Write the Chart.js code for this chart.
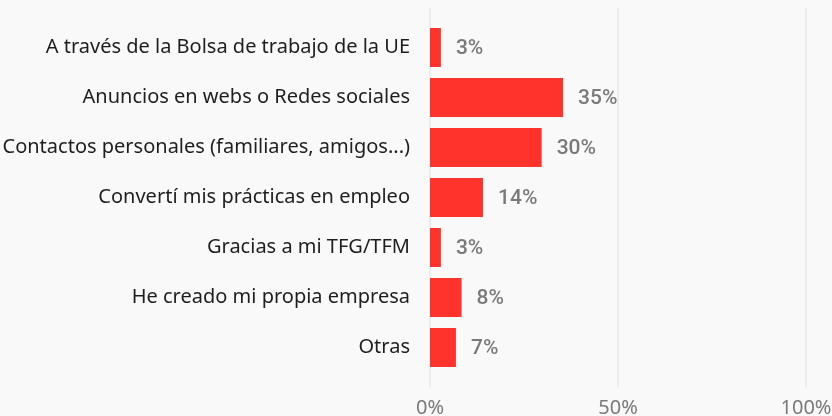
<!DOCTYPE html>
<html>
<head>
<meta charset="utf-8">
<script src="https://cdn.jsdelivr.net/npm/chart.js@4/dist/chart.umd.min.js"></script>
<style>
    html, body { margin: 0; padding: 0; background: #f9f9f9; overflow: hidden; }
    #wrap { width: 832px; height: 420px; position: relative; }
</style>
</head>
<body>
<div id="wrap"><canvas id="chart"></canvas></div>
<script>
const categories = [
    'A través de la Bolsa de trabajo de la UE',
    'Anuncios en webs o Redes sociales',
    'Contactos personales (familiares, amigos...)',
    'Convertí mis prácticas en empleo',
    'Gracias a mi TFG/TFM',
    'He creado mi propia empresa',
    'Otras'
];
const shares = [2.9, 35.4, 29.7, 14.1, 2.9, 8.4, 6.9];
const xTicks = [0, 50, 100];

// grid lines reach a bit past the plot area, above and below
const gridPlugin = {
    id: 'longGrid',
    beforeDatasetsDraw(chart) {
        const { ctx, chartArea, scales } = chart;
        ctx.save();
        ctx.strokeStyle = '#e6e6e6';
        ctx.lineWidth = 1.5;
        scales.x.ticks.forEach(t => {
            const x = scales.x.getPixelForValue(t.value);
            ctx.beginPath();
            ctx.moveTo(x, chartArea.top - 15);
            ctx.lineTo(x, chartArea.bottom + 15);
            ctx.stroke();
        });
        ctx.restore();
    }
};

const valueLabels = {
    id: 'valueLabels',
    afterDatasetsDraw(chart) {
        const { ctx } = chart;
        const meta = chart.getDatasetMeta(0);
        ctx.save();
        ctx.font = '500 21px Roboto';
        ctx.fillStyle = '#7a7a7a';
        ctx.textAlign = 'left';
        ctx.textBaseline = 'middle';
        meta.data.forEach((bar, i) => {
            ctx.fillText(Math.round(shares[i]) + '%', bar.x + 15, bar.y + 1);
        });
        ctx.restore();
    }
};

new Chart(document.getElementById('chart'), {
    type: 'bar',
    data: {
        labels: categories,
        datasets: [{
            data: shares,
            backgroundColor: '#ff332b',
            borderWidth: 0,
            categoryPercentage: 0.78,
            barPercentage: 1
        }]
    },
    options: {
        indexAxis: 'y',
        responsive: true,
        maintainAspectRatio: false,
        animation: false,
        layout: { padding: { top: 22.5, right: 26, left: 0, bottom: 0 } },
        plugins: {
            legend: { display: false },
            tooltip: { enabled: false }
        },
        scales: {
            x: {
                min: 0,
                max: 100,
                afterBuildTicks: (scale) => { scale.ticks = xTicks.map(v => ({ value: v })); },
                afterFit: (scale) => {
                    scale.height = 47.5;
                    scale.paddingLeft = 0;
                    scale.paddingRight = 0;
                },
                grid: { display: false, drawTicks: false },
                border: { display: false },
                ticks: {
                    padding: 24,
                    color: '#7a7a7a',
                    font: { family: 'Noto Sans', size: 20 },
                    callback: (v) => v + '%'
                }
            },
            y: {
                afterFit: (scale) => {
                    scale.width = 430;
                    scale.paddingTop = 0;
                    scale.paddingBottom = 0;
                },
                grid: { display: false, drawTicks: false },
                border: { display: false },
                ticks: {
                    padding: 20,
                    color: '#1e1e1e',
                    font: { family: 'Noto Sans', size: 20 }
                }
            }
        }
    },
    plugins: [gridPlugin, valueLabels]
});
</script>
</body>
</html>
